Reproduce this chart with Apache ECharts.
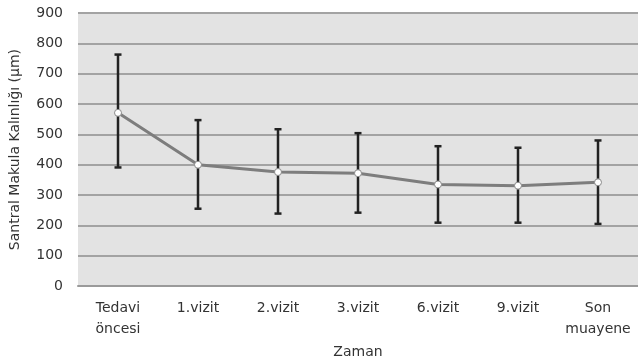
<!DOCTYPE html>
<html><head><meta charset="utf-8">
<script src="https://cdn.jsdelivr.net/npm/echarts@6/dist/echarts.min.js"></script>
<style>html,body{margin:0;padding:0;background:#fff}#c{width:638px;height:364px}</style>
</head><body><div id="c"></div>
<script>
const categories = ['Tedavi\nöncesi', '1.vizit', '2.vizit', '3.vizit', '6.vizit', '9.vizit', 'Son\nmuayene'];
const meanValues = [571, 400, 376, 372, 335, 331, 342];
const upperValues = [763, 547, 517, 504, 461, 456, 480];
const lowerValues = [391, 255, 239, 242, 209, 209, 205];
const yTicks = [0, 100, 200, 300, 400, 500, 600, 700, 800, 900];

const chart = echarts.init(document.getElementById('c'));
const font = 'DejaVu Sans, Verdana, sans-serif';
chart.setOption({
  animation: false,
  grid: { left: 78, right: -2, top: 13, bottom: 70, show: true, backgroundColor: '#e3e3e3', borderWidth: 0 },
  xAxis: {
    type: 'category', data: categories, boundaryGap: true,
    name: 'Zaman', nameLocation: 'middle', nameGap: 51,
    nameTextStyle: { fontFamily: font, fontSize: 14, color: '#333333' },
    axisLine: { show: true, lineStyle: { color: '#9a9a9a', width: 2 } },
    axisTick: { show: false },
    axisLabel: { fontFamily: font, fontSize: 14, color: '#333333', margin: 12, lineHeight: 21, interval: 0 }
  },
  yAxis: {
    type: 'value', min: yTicks[0], max: yTicks[yTicks.length - 1], interval: 100,
    name: 'Santral Makula Kalınlığı (µm)', nameLocation: 'middle', nameGap: 56,
    nameTextStyle: { fontFamily: font, fontSize: 14, color: '#333333' },
    axisLine: { show: false }, axisTick: { show: false },
    axisLabel: { fontFamily: font, fontSize: 14, color: '#333333', margin: 15 },
    splitLine: { lineStyle: { color: '#a3a3a3', width: 2 } }
  },
  series: [
    {
      type: 'custom',
      renderItem: function (params, api) {
        const x = api.value(0);
        const hi = api.coord([x, api.value(1)]);
        const lo = api.coord([x, api.value(2)]);
        const cw = 3.5;
        const st = { stroke: '#222222', lineWidth: 2.5 };
        return {
          type: 'group',
          children: [
            { type: 'line', shape: { x1: hi[0], y1: hi[1], x2: lo[0], y2: lo[1] }, style: st },
            { type: 'line', shape: { x1: hi[0] - cw, y1: hi[1], x2: hi[0] + cw, y2: hi[1] }, style: st },
            { type: 'line', shape: { x1: lo[0] - cw, y1: lo[1], x2: lo[0] + cw, y2: lo[1] }, style: st }
          ]
        };
      },
      encode: { x: 0, y: [1, 2] },
      data: categories.map((c, i) => [i, upperValues[i], lowerValues[i]]),
      z: 2
    },
    {
      type: 'line', data: meanValues,
      lineStyle: { color: '#7d7d7d', width: 3 },
      symbol: 'circle', symbolSize: 7,
      itemStyle: { color: '#ffffff', borderColor: '#8a8a8a', borderWidth: 1 },
      z: 3
    }
  ]
});
</script></body></html>
